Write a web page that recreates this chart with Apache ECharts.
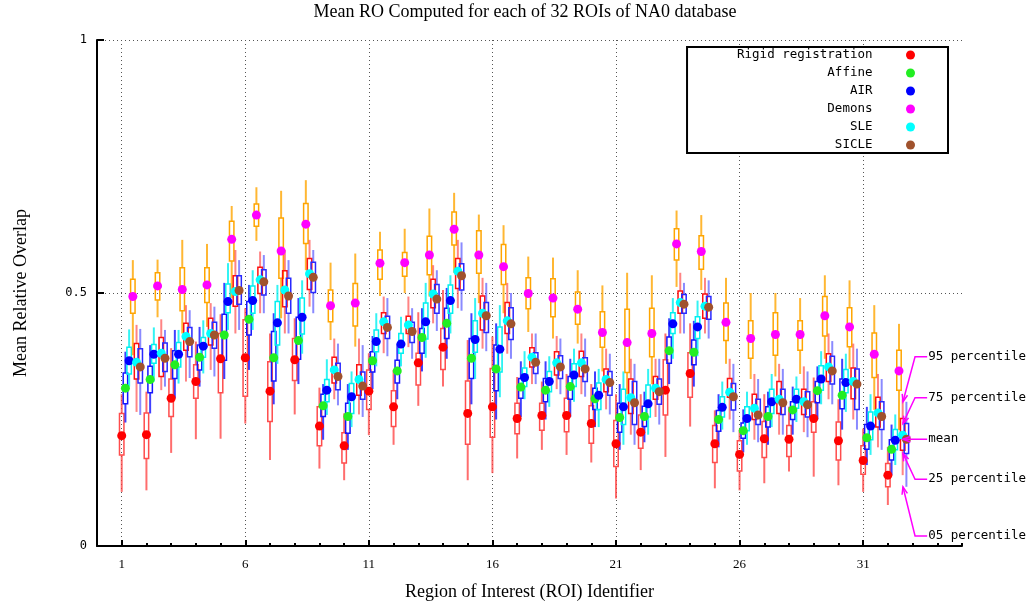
<!DOCTYPE html>
<html>
<head>
<meta charset="utf-8">
<title>Mean RO per ROI</title>
<script src="https://cdn.jsdelivr.net/npm/echarts@6/dist/echarts.min.js"></script>
<style>
  html, body { margin: 0; padding: 0; background: #fff; }
  #main { width: 1031px; height: 602px; }
</style>
</head>
<body>
<div id="main"></div>
<script>
var methods = ['Rigid registration', 'Affine', 'AIR', 'Demons', 'SLE', 'SICLE'];
var roiIds = [1, 2, 3, 4, 5, 6, 7, 8, 9, 10, 11, 12, 13, 14, 15, 16,
              17, 18, 19, 20, 21, 22, 23, 24, 25, 26, 27, 28, 29, 30, 31, 32];
var xTickLabels = [1, 6, 11, 16, 21, 26, 31];
var yTickLabels = [0, 0.5, 1];

// Rigid registration
var rigidMean = [0.218,0.220,0.292,0.325,0.370,0.372,0.306,0.368,0.237,0.198,0.306,0.275,0.362,0.393,0.262,0.275,0.252,0.258,0.258,0.242,0.202,0.225,0.308,0.341,0.202,0.181,0.212,0.211,0.252,0.208,0.169,0.140];
var rigidP05 = [0.107,0.110,0.184,0.211,0.212,0.242,0.170,0.260,0.153,0.130,0.219,0.200,0.277,0.315,0.130,0.144,0.173,0.190,0.180,0.165,0.094,0.150,0.176,0.236,0.114,0.110,0.124,0.147,0.137,0.120,0.107,0.081];
var rigidP25 = [0.180,0.173,0.256,0.292,0.303,0.296,0.246,0.327,0.198,0.164,0.270,0.236,0.318,0.349,0.201,0.215,0.222,0.229,0.226,0.203,0.157,0.193,0.259,0.294,0.165,0.148,0.175,0.177,0.225,0.170,0.142,0.117];
var rigidP75 = [0.262,0.263,0.330,0.358,0.420,0.447,0.364,0.410,0.275,0.224,0.348,0.307,0.381,0.430,0.326,0.351,0.282,0.282,0.292,0.277,0.248,0.259,0.368,0.382,0.238,0.208,0.246,0.238,0.285,0.245,0.198,0.163];
var rigidP95 = [0.300,0.305,0.391,0.404,0.458,0.470,0.420,0.450,0.313,0.262,0.381,0.348,0.462,0.506,0.407,0.414,0.334,0.325,0.340,0.320,0.300,0.300,0.420,0.440,0.268,0.230,0.300,0.275,0.333,0.290,0.232,0.196];

// Affine
var affineMean = [0.312,0.329,0.358,0.373,0.417,0.448,0.372,0.406,0.277,0.256,0.366,0.346,0.412,0.440,0.371,0.350,0.314,0.308,0.315,0.291,0.254,0.256,0.386,0.383,0.250,0.228,0.256,0.269,0.307,0.298,0.214,0.191];
var affineP05 = [0.244,0.262,0.292,0.315,0.330,0.348,0.280,0.320,0.210,0.190,0.310,0.290,0.345,0.370,0.280,0.250,0.255,0.250,0.255,0.235,0.190,0.205,0.320,0.315,0.195,0.185,0.200,0.220,0.250,0.230,0.160,0.140];
var affineP25 = [0.281,0.303,0.331,0.348,0.367,0.417,0.326,0.369,0.256,0.223,0.344,0.322,0.381,0.410,0.331,0.307,0.292,0.285,0.290,0.270,0.225,0.236,0.361,0.358,0.227,0.213,0.235,0.250,0.283,0.271,0.191,0.170];
var affineP75 = [0.342,0.355,0.386,0.397,0.458,0.483,0.424,0.452,0.300,0.282,0.384,0.367,0.430,0.470,0.410,0.397,0.331,0.331,0.335,0.312,0.282,0.276,0.413,0.407,0.268,0.243,0.275,0.285,0.325,0.330,0.240,0.210];
var affineP95 = [0.384,0.397,0.427,0.433,0.520,0.516,0.460,0.490,0.320,0.320,0.415,0.400,0.470,0.510,0.460,0.440,0.365,0.365,0.370,0.345,0.320,0.305,0.450,0.445,0.300,0.270,0.305,0.315,0.355,0.370,0.275,0.240];

// AIR
var airMean = [0.366,0.379,0.379,0.395,0.483,0.485,0.441,0.452,0.308,0.295,0.404,0.399,0.443,0.485,0.408,0.389,0.333,0.325,0.338,0.298,0.275,0.281,0.439,0.433,0.274,0.252,0.285,0.290,0.330,0.323,0.237,0.209];
var airP05 = [0.315,0.325,0.321,0.341,0.427,0.427,0.360,0.380,0.259,0.235,0.355,0.355,0.372,0.420,0.330,0.294,0.290,0.275,0.285,0.235,0.200,0.220,0.370,0.375,0.230,0.200,0.235,0.245,0.280,0.265,0.180,0.160];
var airP25 = [0.340,0.361,0.354,0.373,0.461,0.460,0.397,0.419,0.285,0.262,0.384,0.381,0.409,0.460,0.383,0.344,0.315,0.305,0.315,0.270,0.240,0.255,0.420,0.410,0.255,0.228,0.262,0.272,0.308,0.303,0.210,0.190];
var airP75 = [0.393,0.398,0.402,0.412,0.518,0.514,0.483,0.490,0.329,0.321,0.427,0.420,0.480,0.516,0.445,0.433,0.352,0.345,0.360,0.322,0.310,0.318,0.461,0.453,0.295,0.275,0.310,0.310,0.356,0.349,0.265,0.230];
var airP95 = [0.428,0.432,0.427,0.446,0.559,0.545,0.516,0.525,0.369,0.345,0.460,0.453,0.520,0.535,0.490,0.476,0.385,0.375,0.390,0.350,0.345,0.350,0.490,0.485,0.325,0.305,0.340,0.335,0.385,0.380,0.300,0.260];

// Demons
var demonsMean = [0.493,0.514,0.507,0.516,0.606,0.654,0.583,0.636,0.475,0.480,0.559,0.560,0.575,0.626,0.575,0.552,0.499,0.490,0.468,0.422,0.402,0.420,0.597,0.582,0.442,0.410,0.418,0.418,0.455,0.433,0.379,0.346];
var demonsP05 = [0.377,0.452,0.420,0.433,0.490,0.603,0.450,0.545,0.407,0.394,0.494,0.500,0.493,0.540,0.480,0.460,0.423,0.410,0.400,0.345,0.300,0.320,0.512,0.506,0.360,0.330,0.335,0.340,0.370,0.350,0.269,0.229];
var demonsP25 = [0.460,0.486,0.465,0.481,0.563,0.632,0.529,0.598,0.443,0.435,0.527,0.533,0.536,0.595,0.539,0.517,0.469,0.453,0.438,0.393,0.343,0.374,0.565,0.547,0.406,0.371,0.377,0.387,0.415,0.394,0.333,0.308];
var demonsP75 = [0.527,0.540,0.550,0.550,0.642,0.676,0.648,0.677,0.506,0.519,0.585,0.580,0.612,0.660,0.623,0.596,0.530,0.528,0.502,0.463,0.468,0.470,0.627,0.613,0.480,0.445,0.461,0.445,0.493,0.471,0.421,0.387];
var demonsP95 = [0.565,0.566,0.605,0.597,0.672,0.709,0.702,0.723,0.560,0.578,0.621,0.627,0.667,0.698,0.655,0.634,0.572,0.570,0.545,0.515,0.540,0.535,0.663,0.654,0.530,0.500,0.500,0.490,0.535,0.525,0.476,0.439];

// SLE
var sleMean = [0.363,0.381,0.414,0.420,0.503,0.526,0.506,0.538,0.348,0.329,0.443,0.437,0.498,0.543,0.460,0.445,0.373,0.362,0.362,0.329,0.293,0.312,0.481,0.474,0.304,0.272,0.290,0.285,0.354,0.325,0.263,0.219];
var sleP05 = [0.265,0.308,0.325,0.348,0.420,0.460,0.420,0.473,0.290,0.260,0.381,0.393,0.440,0.470,0.390,0.380,0.320,0.310,0.300,0.270,0.220,0.255,0.420,0.420,0.250,0.210,0.220,0.225,0.290,0.250,0.195,0.140];
var sleP25 = [0.330,0.335,0.387,0.397,0.474,0.499,0.473,0.507,0.322,0.298,0.420,0.420,0.471,0.509,0.427,0.420,0.354,0.338,0.335,0.305,0.262,0.290,0.460,0.450,0.294,0.250,0.262,0.260,0.325,0.291,0.235,0.189];
var sleP75 = [0.400,0.412,0.440,0.450,0.534,0.551,0.544,0.568,0.373,0.358,0.461,0.454,0.527,0.568,0.494,0.481,0.392,0.384,0.385,0.350,0.330,0.335,0.504,0.498,0.331,0.300,0.325,0.310,0.380,0.352,0.294,0.252];
var sleP95 = [0.437,0.448,0.476,0.480,0.585,0.582,0.585,0.605,0.410,0.410,0.493,0.493,0.555,0.605,0.530,0.520,0.420,0.415,0.420,0.390,0.370,0.370,0.540,0.530,0.370,0.340,0.360,0.355,0.420,0.400,0.340,0.290];

// SICLE
var sicleMean = [0.354,0.371,0.404,0.417,0.505,0.522,0.494,0.531,0.335,0.316,0.432,0.424,0.488,0.534,0.455,0.439,0.363,0.354,0.350,0.323,0.283,0.305,0.478,0.472,0.295,0.259,0.283,0.279,0.346,0.320,0.256,0.211];
var sicleP05 = [0.259,0.315,0.332,0.335,0.427,0.460,0.420,0.460,0.278,0.255,0.375,0.370,0.425,0.465,0.385,0.370,0.320,0.300,0.295,0.260,0.200,0.240,0.420,0.410,0.225,0.205,0.220,0.215,0.280,0.230,0.190,0.117];
var sicleP25 = [0.322,0.345,0.374,0.391,0.478,0.496,0.460,0.501,0.309,0.290,0.410,0.402,0.460,0.506,0.422,0.408,0.341,0.331,0.325,0.298,0.240,0.280,0.460,0.448,0.269,0.240,0.260,0.255,0.320,0.270,0.230,0.183];
var sicleP75 = [0.390,0.401,0.432,0.442,0.534,0.546,0.529,0.561,0.361,0.344,0.454,0.442,0.517,0.558,0.481,0.471,0.382,0.376,0.372,0.345,0.325,0.330,0.497,0.493,0.321,0.290,0.310,0.305,0.375,0.350,0.285,0.242];
var sicleP95 = [0.429,0.427,0.466,0.473,0.565,0.575,0.565,0.585,0.400,0.397,0.490,0.470,0.545,0.600,0.520,0.500,0.420,0.410,0.410,0.380,0.360,0.370,0.520,0.525,0.360,0.330,0.350,0.345,0.405,0.390,0.330,0.285];

var annotLabels = ['95 percentile', '75 percentile', 'mean', '25 percentile', '05 percentile'];

var stats = [
  {mean: rigidMean,  p05: rigidP05,  p25: rigidP25,  p75: rigidP75,  p95: rigidP95},
  {mean: affineMean, p05: affineP05, p25: affineP25, p75: affineP75, p95: affineP95},
  {mean: airMean,    p05: airP05,    p25: airP25,    p75: airP75,    p95: airP95},
  {mean: demonsMean, p05: demonsP05, p25: demonsP25, p75: demonsP75, p95: demonsP95},
  {mean: sleMean,    p05: sleP05,    p25: sleP25,    p75: sleP75,    p95: sleP95},
  {mean: sicleMean,  p05: sicleP05,  p25: sicleP25,  p75: sicleP75,  p95: sicleP95}
];

// styles / layout
var dotColors = ['#ff0000', '#22ee22', '#0000ff', '#ff00ff', '#00ffff', '#a0522d'];
var boxColors = ['#ff4c4c', '#1414ff', '#00f0f0', '#ffa500', '#ff1010', '#2828ff'];
var whiskerColors = ['rgba(255,60,60,0.75)', 'rgba(0,0,255,0.75)', 'rgba(0,240,240,0.8)',
                     'rgba(255,165,0,0.8)', 'rgba(255,50,50,0.6)', 'rgba(60,60,255,0.6)'];
var offsets = [0, 0.15, 0.3, 0.45, 0.6, 0.75];
var BOX_W = 0.18;
var monoFont = '"DejaVu Sans Mono", monospace';
var serifFont = '"Liberation Serif", "Times New Roman", serif';
var dotted = [1, 3];

var chart = echarts.init(document.getElementById('main'));

var series = [];
// boxes + whiskers first
methods.forEach(function (name, m) {
  var s = stats[m];
  series.push({
    type: 'custom',
    name: name + ' box',
    xAxisIndex: 0,
    silent: true,
    z: 2,
    encode: {x: 0, y: [1, 2, 3, 4]},
    data: roiIds.map(function (id, i) {
      return [id + offsets[m], s.p05[i], s.p25[i], s.p75[i], s.p95[i]];
    }),
    renderItem: function (params, api) {
      var x = api.value(0);
      var lo = api.coord([x, api.value(1)]);
      var q1 = api.coord([x, api.value(2)]);
      var q3 = api.coord([x, api.value(3)]);
      var hi = api.coord([x, api.value(4)]);
      var w = api.size([BOX_W, 0])[0];
      var wStyle = {stroke: whiskerColors[m], lineWidth: 2};
      return {
        type: 'group',
        children: [
          {type: 'line', shape: {x1: lo[0], y1: lo[1], x2: q1[0], y2: q1[1]}, style: wStyle},
          {type: 'line', shape: {x1: q3[0], y1: q3[1], x2: hi[0], y2: hi[1]}, style: wStyle},
          {type: 'rect', shape: {x: q1[0] - w / 2, y: q3[1], width: w, height: q1[1] - q3[1]},
           style: {fill: 'none', stroke: boxColors[m], lineWidth: 1.5}}
        ]
      };
    }
  });
});
// mean dots
methods.forEach(function (name, m) {
  var s = stats[m];
  series.push({
    type: 'scatter',
    name: name,
    xAxisIndex: 0,
    z: 3,
    symbol: 'circle',
    symbolSize: 9,
    itemStyle: {color: dotColors[m], opacity: 1},
    data: roiIds.map(function (id, i) { return [id + offsets[m], s.mean[i]]; })
  });
});

var option = {
  backgroundColor: '#fff',
  animation: false,
  title: {
    text: 'Mean RO Computed for each of 32 ROIs of NA0 database',
    left: 525,
    top: 3,
    textAlign: 'center',
    padding: 0,
    textStyle: {fontFamily: serifFont, fontSize: 18, fontWeight: 'normal', color: '#000'}
  },
  legend: {
    data: methods,
    orient: 'vertical',
    right: 83,
    top: 47,
    align: 'right',
    icon: 'circle',
    itemWidth: 66,
    itemHeight: 9,
    itemGap: 4,
    padding: [1, 33, 1, 50],
    borderColor: '#000',
    borderWidth: 2,
    backgroundColor: '#fff',
    selectedMode: false,
    textStyle: {fontFamily: monoFont, fontSize: 12.5, color: '#000', lineHeight: 14}
  },
  grid: {left: 97, right: 69, top: 40, bottom: 56, containLabel: false, outerBoundsMode: 'none'},
  xAxis: [{
    type: 'value',
    min: 0,
    max: 35,
    interval: 1,
    name: 'Region of Interest (ROI) Identifier',
    nameLocation: 'middle',
    nameGap: 37,
    nameTextStyle: {fontFamily: serifFont, fontSize: 18, color: '#000'},
    axisLine: {lineStyle: {color: '#000', width: 2}},
    axisTick: {inside: true, length: 6, customValues: xTickLabels, lineStyle: {color: '#000', width: 2}},
    axisLabel: {customValues: xTickLabels, margin: 12, fontFamily: serifFont, fontSize: 13, color: '#000'},
    splitLine: {show: true, lineStyle: {color: '#555', width: 1, type: dotted}}
  }, {
    type: 'value',
    position: 'bottom',
    offset: 0,
    min: 0,
    max: 35,
    interval: 1,
    axisLine: {show: false},
    axisTick: {inside: true, length: 3, lineStyle: {color: '#000', width: 2}},
    axisLabel: {show: false},
    splitLine: {show: false}
  }],
  yAxis: {
    type: 'value',
    min: 0,
    max: 1,
    interval: 0.5,
    name: 'Mean Relative Overlap',
    nameLocation: 'middle',
    nameGap: 67,
    nameTextStyle: {fontFamily: serifFont, fontSize: 18, color: '#000'},
    axisLine: {show: true, lineStyle: {color: '#000', width: 2}},
    axisTick: {show: true, inside: true, length: 7, lineStyle: {color: '#000', width: 2}},
    axisLabel: {customValues: yTickLabels, margin: 10, fontFamily: monoFont, fontSize: 12, color: '#000'},
    splitLine: {show: true, lineStyle: {color: '#555', width: 1, type: dotted}}
  },
  series: series
};

chart.setOption(option);

// percentile annotations pointing at the last SICLE box
var last = roiIds.length - 1;
var sic = stats[5];
var targets = [sic.p95[last], sic.p75[last], sic.mean[last], sic.p25[last], sic.p05[last]];
var textYs = [0.374, 0.293, sic.mean[last], 0.132, 0.02];
var TEXT_X = 33.63, ELBOW_X = 33.1;
var tipX = roiIds[last] + offsets[5] - BOX_W / 2 - 0.05;
var magenta = '#ff00ff';
var graphics = [];
annotLabels.forEach(function (label, i) {
  var t = chart.convertToPixel({gridIndex: 0}, [TEXT_X, textYs[i]]);
  var e = chart.convertToPixel({gridIndex: 0}, [ELBOW_X, textYs[i]]);
  var p = chart.convertToPixel({gridIndex: 0}, [tipX, targets[i]]);
  var pts = label === 'mean' ? [[t[0] - 1, t[1]], [p[0], p[1]]]
                             : [[t[0] - 1, t[1]], [e[0], e[1]], [p[0], p[1]]];
  graphics.push({type: 'polyline', shape: {points: pts}, style: {stroke: magenta, lineWidth: 1.5, fill: null}, z: 10});
  var from = pts[pts.length - 2];
  var ang = Math.atan2(p[1] - from[1], p[0] - from[0]);
  var len = 8, spread = 0.35;
  graphics.push({
    type: 'polyline',
    shape: {points: [
      [p[0] - len * Math.cos(ang - spread), p[1] - len * Math.sin(ang - spread)],
      [p[0], p[1]],
      [p[0] - len * Math.cos(ang + spread), p[1] - len * Math.sin(ang + spread)]
    ]},
    style: {stroke: magenta, lineWidth: 1.5, fill: null},
    z: 10
  });
  graphics.push({
    type: 'text',
    x: t[0], y: t[1],
    style: {text: label, fill: '#000', font: '12.5px ' + monoFont, verticalAlign: 'middle', align: 'left'},
    z: 11
  });
});
chart.setOption({graphic: graphics});
</script>
</body>
</html>
